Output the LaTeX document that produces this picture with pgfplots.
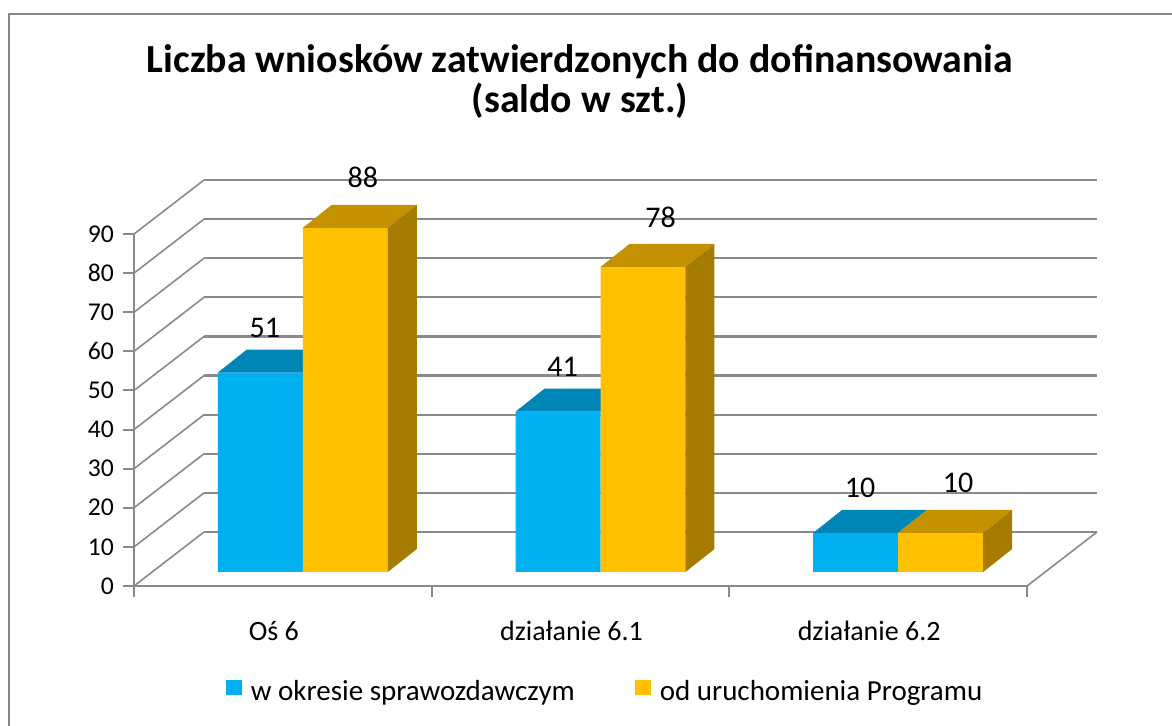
\documentclass[border=0pt]{standalone}
\usepackage{fontspec}
\setmainfont{Carlito}
\usepackage{pgfplots}
\pgfplotsset{compat=1.18}
\definecolor{cblue}{HTML}{00B0F0}
\definecolor{cbluetop}{HTML}{0086B6}
\definecolor{corange}{HTML}{FFC000}
\definecolor{corangetop}{HTML}{C49200}
\definecolor{corangeside}{HTML}{A67C00}
\definecolor{cgrid}{HTML}{8A8A8A}
\definecolor{cframe}{HTML}{878787}
\pgfplotsset{
  plane/.style={scale only axis, width=446.5pt, height=176pt,
    xmin=-0.5, xmax=2.5, ymin=0, ymax=90, anchor=south west, clip=false,
    /pgf/number format/assume math mode=true},
}
\begin{document}
\begin{tikzpicture}
\useasboundingbox (0,0) rectangle (586pt,363pt);
\draw[cframe, line width=1.1pt] (4.6pt,-3pt) -- (4.6pt,356pt) -- (590pt,356pt);
\node[font=\fontsize{19.9}{20}\selectfont\bfseries, align=center] at (290pt,322pt)
  {Liczba wniosków zatwierdzonych do dofinansowania\\(saldo w szt.)};

% back wall
\begin{axis}[plane, at={(102pt,97pt)},
  axis line style={draw=none}, ytick={0,10,...,90}, yticklabels={}, xtick=\empty,
  major tick length=0pt, ymajorgrids, grid style={cgrid, line width=1.1pt}]
\addplot[draw=none] coordinates {(0,0)};
\end{axis}

% front plane with axes
\begin{axis}[plane, at={(67pt,70pt)},
  axis x line*=bottom, axis y line*=left,
  axis line style={cgrid, line width=1pt},
  ytick={0,10,...,90},
  xtick={-0.5,0.5,1.5,2.5}, xticklabels={},
  extra x ticks={0,1,2},
  extra x tick labels={Oś 6, działanie 6.1, działanie 6.2},
  extra x tick style={major tick length=0pt,
    xticklabel style={yshift=-14pt, xshift=-4.5pt, font=\fontsize{14}{16}\selectfont}},
  tick align=outside, major tick length=5.5pt,
  tick style={cgrid, line width=1pt},
  ticklabel style={font=\fontsize{12.8}{14}\selectfont},
  yticklabel style={xshift=-1pt}]
\addplot[draw=none] coordinates {(0,0)};
\pgfplotsinvokeforeach{0,10,...,90}{
  \draw[cgrid, line width=0.8pt] (axis cs:-0.5,#1) -- ++(35pt,27pt);
}
\draw[cgrid, line width=0.8pt] (axis cs:2.5,0) -- ++(35pt,27pt);
\end{axis}

% bar plane
\begin{axis}[plane, at={(77pt,77pt)}, hide axis,
  legend columns=2,
  legend style={at={(0.504,-0.339)}, anchor=center, draw=none, fill=none,
    font=\fontsize{14.5}{16}\selectfont,
    nodes={inner sep=0pt},
    /tikz/every odd column/.append style={column sep=4.5pt},
    /tikz/every even column/.append style={column sep=30pt}},
  legend cell align=left]
\addplot[ybar, bar width=0.2855, bar shift=-0.14275, fill=cblue, draw=none,
  legend image code/.code={\fill[cblue] (0pt,-1.8pt) rectangle (8pt,6.0pt);},
  nodes near coords,
  every node near coord/.append style={font=\fontsize{15}{16}\selectfont,
    anchor=center, yshift=22.5pt, xshift=-19pt, text=black}]
  coordinates {(0,51) (1,41) (2,10)};
\addlegendentry{w okresie sprawozdawczym}
\addplot[fill=cbluetop, draw=none, forget plot]
  coordinates {(-0.2855,51) (0,51) (0.0974,56.88) (-0.1881,56.88)} -- cycle;
\addplot[fill=cbluetop, draw=none, forget plot]
  coordinates {(0.7145,41) (1,41) (1.0974,46.88) (0.8119,46.88)} -- cycle;
\addplot[fill=cbluetop, draw=none, forget plot]
  coordinates {(1.7145,10) (2,10) (2.0974,15.88) (1.8119,15.88)} -- cycle;

\addplot[ybar, bar width=0.2855, bar shift=0.14275, fill=corange, draw=none,
  legend image code/.code={\fill[corange] (0pt,-1.8pt) rectangle (8pt,6.0pt);},
  nodes near coords,
  every node near coord/.append style={font=\fontsize{15}{16}\selectfont,
    anchor=center, yshift=25pt, xshift=30pt, text=black}]
  coordinates {(0,88) (1,78) (2,10)};
\addlegendentry{od uruchomienia Programu}
\addplot[fill=corangetop, draw=none, forget plot]
  coordinates {(0,88) (0.2855,88) (0.3829,93.88) (0.0974,93.88)} -- cycle;
\addplot[fill=corangeside, draw=none, forget plot]
  coordinates {(0.2855,0) (0.3829,5.88) (0.3829,93.88) (0.2855,88)} -- cycle;
\addplot[fill=corangetop, draw=none, forget plot]
  coordinates {(1,78) (1.2855,78) (1.3829,83.88) (1.0974,83.88)} -- cycle;
\addplot[fill=corangeside, draw=none, forget plot]
  coordinates {(1.2855,0) (1.3829,5.88) (1.3829,83.88) (1.2855,78)} -- cycle;
\addplot[fill=corangetop, draw=none, forget plot]
  coordinates {(2,10) (2.2855,10) (2.3829,15.88) (2.0974,15.88)} -- cycle;
\addplot[fill=corangeside, draw=none, forget plot]
  coordinates {(2.2855,0) (2.3829,5.88) (2.3829,15.88) (2.2855,10)} -- cycle;
\end{axis}
\end{tikzpicture}
\end{document}
